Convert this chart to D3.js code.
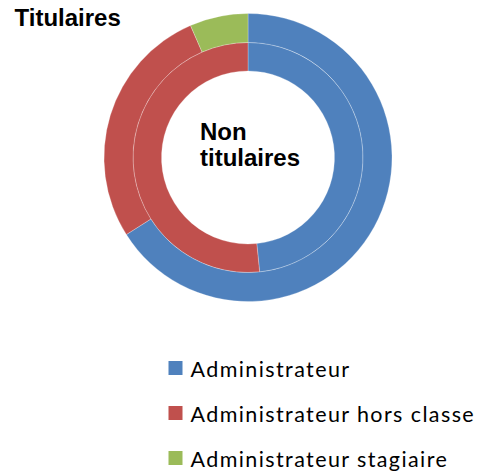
<!DOCTYPE html>
<html>
<head>
<meta charset="utf-8">
<script src="https://cdn.jsdelivr.net/npm/d3@7"></script>
<style>
  body { margin: 0; background: #fff; }
</style>
</head>
<body>
<script>
var width = 479, height = 471;

// data
var categories = ['Administrateur', 'Administrateur hors classe', 'Administrateur stagiaire'];
var colors = ['#4F81BD', '#C0504D', '#9BBB59'];
var titulaires = [101, 42, 10];      // outer ring
var nonTitulaires = [15, 16, 0];     // inner ring
var ringLabels = ['Titulaires', 'Non titulaires'];

var cx = 248, cy = 157.5;
var rOuter = 144, rMid = 115, rInner = 86.5;

var svg = d3.select('body')
  .append('svg')
  .attr('width', width)
  .attr('height', height);

var pie = d3.pie().sort(null).value(function (d) { return d; });
var color = d3.scaleOrdinal().domain(d3.range(categories.length)).range(colors);

var outerArc = d3.arc().innerRadius(rMid).outerRadius(rOuter);
var innerArc = d3.arc().innerRadius(rInner).outerRadius(rMid);

var donut = svg.append('g')
  .attr('transform', 'translate(' + cx + ',' + cy + ')');

// inner ring = non titulaires, outer ring = titulaires
[[nonTitulaires, innerArc], [titulaires, outerArc]].forEach(function (ring) {
  donut.append('g')
    .selectAll('path')
    .data(pie(ring[0]).filter(function (d) { return d.value > 0; }))
    .enter().append('path')
    .attr('d', ring[1])
    .attr('fill', function (d) { return color(d.index); })
    .attr('stroke', '#fff')
    .attr('stroke-opacity', 0.35)
    .attr('stroke-width', 0.75);
});

// ring labels
var labelFont = 'bold 24px "Liberation Sans", Arial, sans-serif';
svg.append('text')
  .attr('x', 14.5)
  .attr('y', 26)
  .style('font', labelFont)
  .attr('fill', '#000')
  .text(ringLabels[0]);

var centerText = svg.append('text')
  .attr('x', 200)
  .attr('y', 139.5)
  .style('font', labelFont)
  .attr('fill', '#000');
ringLabels[1].split(' ').forEach(function (w, i) {
  centerText.append('tspan')
    .attr('x', 200)
    .attr('dy', i === 0 ? 0 : 26.5)
    .text(w);
});

// legend
var legend = svg.append('g')
  .attr('transform', 'translate(168.5,361)');
var rows = legend.selectAll('g')
  .data(categories)
  .enter().append('g')
  .attr('transform', function (d, i) { return 'translate(0,' + (i * 45) + ')'; });
rows.append('rect')
  .attr('width', 14)
  .attr('height', 14)
  .attr('fill', function (d, i) { return color(i); });
rows.append('text')
  .attr('x', 22)
  .attr('y', 15.5)
  .style('font', '21.5px Lato, sans-serif')
  .style('letter-spacing', '1.4px')
  .attr('fill', '#000')
  .text(function (d) { return d; });
</script>
</body>
</html>
